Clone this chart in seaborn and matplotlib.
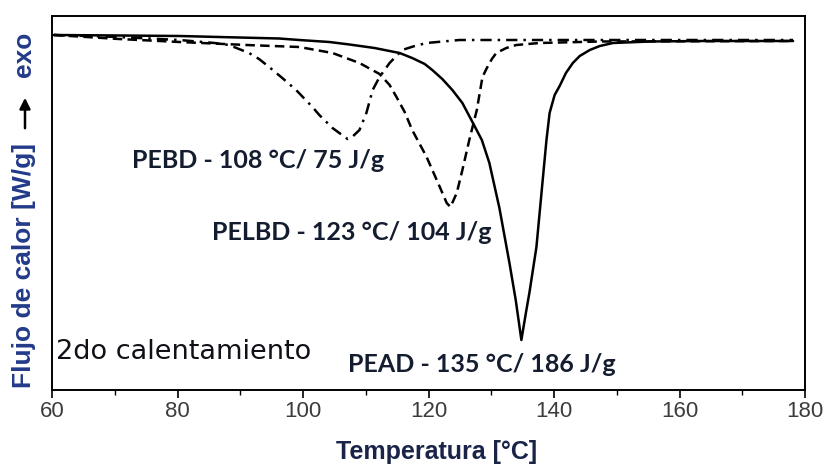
import numpy as np
import pandas as pd
import matplotlib
matplotlib.use("Agg")
import matplotlib.pyplot as plt
import seaborn as sns

# ---- data (heat flow in arbitrary units, exo up) ----
pead_T = [60.3, 70.7, 80.3, 89.8, 96.2, 99.4, 104.2, 107.4, 111.4, 115.4, 117.4, 119.4,
          120.6, 122.2, 123.8, 125.4, 127.0, 128.5, 129.7, 131.3, 132.9, 133.9, 134.8,
          135.6, 136.1, 137.2, 138.2, 138.8, 139.3, 140.1, 140.9, 141.9, 143.0, 144.1,
          145.7, 147.3, 149.4, 155.3, 163.2, 178.1]
pead_q = [0.02, 0.015, 0.01, -0.005, -0.015, -0.03, -0.05, -0.075, -0.11, -0.16, -0.21, -0.27,
          -0.33, -0.42, -0.53, -0.66, -0.85, -1.03, -1.26, -1.71, -2.26, -2.63, -3.03,
          -2.73, -2.55, -2.10, -1.43, -1.03, -0.76, -0.58, -0.49, -0.36, -0.26, -0.19,
          -0.13, -0.09, -0.06, -0.045, -0.04, -0.04]

pelbd_T = [60.3, 70.7, 80.3, 91.0, 99.4, 104.7, 109.0, 112.2, 113.8, 114.9, 116.2, 117.4,
           119.7, 121.8, 122.9, 123.5, 124.5, 125.4, 126.5, 127.7, 128.6, 129.3, 130.1,
           130.8, 132.4, 134.0, 137.7, 147.3, 178.1]
pelbd_q = [0.02, -0.02, -0.05, -0.08, -0.10, -0.16, -0.26, -0.37, -0.48, -0.60, -0.75, -0.93,
           -1.20, -1.50, -1.66, -1.70, -1.56, -1.33, -1.03, -0.73, -0.40, -0.31, -0.22,
           -0.16, -0.11, -0.08, -0.06, -0.045, -0.04]

pebd_T = [60.3, 70.7, 80.3, 85.9, 88.2, 91.4, 93.0, 94.6, 96.7, 98.9, 101.5, 102.6, 104.7,
          107.1, 108.0, 109.0, 110.1, 111.1, 112.2, 113.8, 115.8, 117.8, 119.7, 124.9, 178.1]
pebd_q = [0.02, 0.0, -0.03, -0.06, -0.08, -0.16, -0.22, -0.30, -0.41, -0.53, -0.70, -0.78,
          -0.91, -1.02, -0.99, -0.93, -0.76, -0.53, -0.40, -0.26, -0.13, -0.09, -0.06,
          -0.03, -0.03]

labels = ["PEBD - 108 \u00b0C/ 75 J/g", "PELBD - 123 \u00b0C/ 104 J/g", "PEAD - 135 \u00b0C/ 186 J/g"]
label_T = [72.8, 85.5, 107.1]
label_q = [-1.23, -1.96, -3.28]

xticks_major = [60, 80, 100, 120, 140, 160, 180]
xticks_minor = [70, 90, 110, 130, 150, 170]

# ---- figure ----
sns.set_theme(style="white")
plt.rcParams['font.family'] = ['Liberation Sans', 'DejaVu Sans']

fig = plt.figure(figsize=(8.3, 4.68), dpi=100)
ax = fig.add_axes([52/830, 1-390/468, (805-52)/830, (390-16)/468])

sns.lineplot(x=pead_T, y=pead_q, ax=ax, color="black", lw=1.8, linestyle="-")
sns.lineplot(x=pelbd_T, y=pelbd_q, ax=ax, color="black", lw=1.8, linestyle=(0, (3.8, 2.1)))
sns.lineplot(x=pebd_T, y=pebd_q, ax=ax, color="black", lw=1.8, linestyle=(0, (4.5, 2.4, 1, 2.4)))

ax.set_xlim(60, 180)
ax.set_ylim(-3.53, 0.21)
ax.set_xticks(xticks_major)
ax.set_xticks(xticks_minor, minor=True)
ax.set_yticks([])
ax.tick_params(axis='x', which='major', direction='out', length=6, width=1.2,
               color='black', labelsize=16, labelcolor='#3c3c3c', pad=2, bottom=True)
ax.tick_params(axis='x', which='minor', direction='out', length=3.5, width=1.0,
               color='black', bottom=True)
for s in ax.spines.values():
    s.set_color('black')
    s.set_linewidth(1.4)
ax.set_xlabel("")
ax.set_ylabel("")

ann_color = '#141c30'
for txt, t, q in zip(labels, label_T, label_q):
    ax.text(t, q, txt, ha='left', va='center', fontsize=18, fontweight='bold',
            family=['Lato', 'DejaVu Sans'], color=ann_color)

ax.text(60.6, -3.15, "2do calentamiento", ha='left', va='center', fontsize=19.5,
        family=['DejaVu Sans'], color='#101018')

# axis labels
fig.text(437/830, 1-452/468, "Temperatura [\u00b0C]", ha='center', va='center',
         fontsize=18, fontweight='bold', color='#1a2448')
fig.text(24/830, 1-265/468, "Flujo de calor [W/g]", ha='center', va='center',
         rotation=90, fontsize=19, fontweight='bold', color='#233a8a')
fig.text(24/830, 1-54/468, "exo", ha='center', va='center',
         rotation=90, fontsize=19, fontweight='bold', color='#233a8a')
fig.patches.append(matplotlib.patches.FancyArrowPatch(
    (25/830, 1-131/468), (25/830, 1-95/468), transform=fig.transFigure,
    arrowstyle='-|>', mutation_scale=16, lw=1.8, color='black'))

fig.savefig("out.png", dpi=100)
